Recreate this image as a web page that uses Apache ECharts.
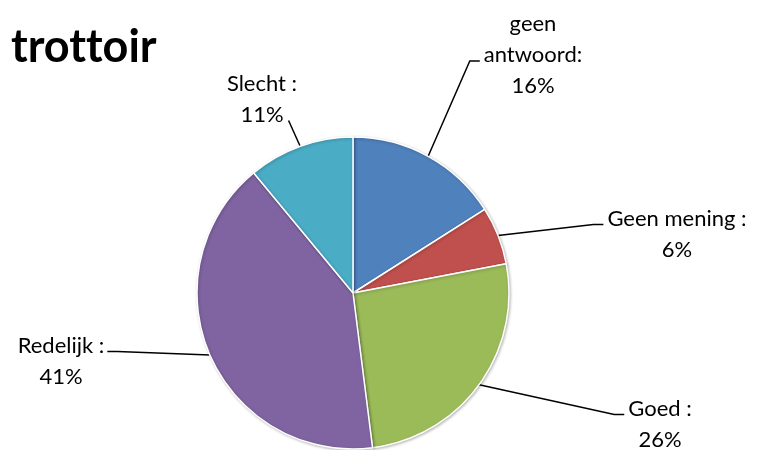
<!DOCTYPE html>
<html><head><meta charset="utf-8">
<script src="https://cdn.jsdelivr.net/npm/echarts@6/dist/echarts.min.js"></script>
<style>html,body{margin:0;padding:0;background:#fff}#c{width:767px;height:450px}</style>
</head><body><div id="c"></div>
<script>
const categories = ['geen antwoord', 'Geen mening', 'Goed', 'Redelijk', 'Slecht'];
const labelPrefixes = ['geen\nantwoord:', 'Geen mening :', 'Goed :', 'Redelijk :', 'Slecht :'];
const values = [16, 6, 26, 41, 11];
const colors = ['#4F81BD', '#C0504D', '#9BBB59', '#8064A2', '#4BACC6'];
const titleText = 'trot\u200Ctoir';

// layout (styling) constants
const CX = 353, CY = 293, R = 156;
const FONT = 'Lato', FS = 22, LH = 31;
const labelPos = [[533, 55], [677, 234], [660, 424], [61, 361], [262, 99]];

const ctx = document.createElement('canvas').getContext('2d');
ctx.font = FS + 'px ' + FONT;
const labelLines = i => (labelPrefixes[i] + '\n' + values[i] + '%').split('\n');

function layout(p) {
  const i = p.dataIndex;
  const [lx, ly] = labelPos[i];
  const lines = labelLines(i);
  const n = lines.length;
  const top = ly - n * LH / 2;
  const start = p.labelLinePoints ? p.labelLinePoints[0] : null;
  const res = { x: lx, y: ly, align: 'center', verticalAlign: 'middle', hideOverlap: false };
  if (!start) return res;
  const baseline = k => top + k * LH + LH / 2 + 7;
  if (lx > CX - R && lx < CX + R) {
    // label above pie: line goes to bottom-right of last line
    const w = ctx.measureText(lines[n - 1]).width;
    const end = [lx + w / 2 + 5, baseline(n - 1) - 1];
    res.labelLinePoints = [start, end, end];
  } else {
    const k = Math.floor((n - 1) / 2);
    const w = ctx.measureText(lines[k]).width;
    const y = baseline(k) - 1;
    if (lx > CX) {
      const ex = lx - w / 2 - 4;
      res.labelLinePoints = [start, [ex - 10, y], [ex, y]];
    } else {
      const ex = lx + w / 2 + 3;
      res.labelLinePoints = [start, [ex + 10, y], [ex, y]];
    }
  }
  return res;
}

const chart = echarts.init(document.getElementById('c'));
chart.setOption({
  animation: false,
  title: { text: titleText, left: 6, top: 20, textStyle: { fontFamily: 'Lato', fontWeight: 'bold', fontSize: 45, color: '#000' } },
  series: [{
    type: 'pie',
    center: [CX, CY],
    radius: R,
    startAngle: 90,
    clockwise: true,
    data: categories.map((n, i) => ({ name: n, value: values[i], itemStyle: { color: colors[i] } })),
    itemStyle: { borderColor: '#fff', borderWidth: 1.5, shadowBlur: 3, shadowColor: 'rgba(0,0,0,0.25)', shadowOffsetX: 1, shadowOffsetY: 1 },
    emphasis: { disabled: true },
    label: {
      show: true,
      position: 'outside',
      formatter: p => labelLines(p.dataIndex).join('\n'),
      fontFamily: FONT, fontSize: FS, color: '#000', lineHeight: LH, align: 'center'
    },
    labelLine: { show: true, length: 20, length2: 10, lineStyle: { color: '#000', width: 1.5 } },
    labelLayout: layout
  }]
});
</script></body></html>
